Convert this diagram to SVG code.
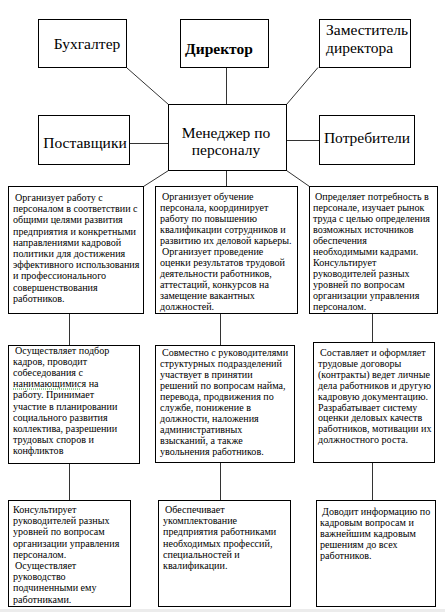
<svg xmlns="http://www.w3.org/2000/svg" width="445" height="612" viewBox="0 0 445 612">
<style>
.box{fill:#fff;stroke:#000;stroke-width:1}
.ln{stroke:#333;stroke-width:1;fill:none}
.t{font-size:15.5px}
.b{font-weight:bold}
.s{font-size:10.1px}
</style>
<rect x="0" y="0" width="445" height="612" fill="#fff"/>
<rect x="0" y="609" width="445" height="3" fill="#ececec"/>
<g id="connectors">
<line class="ln" x1="127" y1="68" x2="168.5" y2="104.5"/>
<line class="ln" x1="226.5" y1="67.5" x2="226.5" y2="104.5"/>
<line class="ln" x1="318" y1="67.5" x2="286.5" y2="104.5"/>
<line class="ln" x1="130" y1="143.5" x2="168.5" y2="143.5"/>
<line class="ln" x1="286.5" y1="140.5" x2="319.5" y2="140.5"/>
<line class="ln" x1="168.5" y1="170.5" x2="143.5" y2="186.5"/>
<line class="ln" x1="226.5" y1="170.5" x2="226.5" y2="186.5"/>
<line class="ln" x1="286.5" y1="170.5" x2="309.5" y2="186.5"/>
<line class="ln" x1="69.5" y1="313.5" x2="69.5" y2="345.5"/>
<line class="ln" x1="220.5" y1="313.5" x2="220.5" y2="345.5"/>
<line class="ln" x1="372.5" y1="313.5" x2="372.5" y2="342.5"/>
<line class="ln" x1="69.5" y1="463.5" x2="69.5" y2="500.5"/>
<line class="ln" x1="220.5" y1="462.5" x2="220.5" y2="500.5"/>
<line class="ln" x1="372.5" y1="462.5" x2="372.5" y2="500.5"/>
</g>
<g font-family="Liberation Serif, Times New Roman, serif" fill="#000">
<g id="buh"><rect class="box" x="38.5" y="19.5" width="88" height="48"/><text class="t" x="87" y="49" text-anchor="middle">Бухгалтер</text></g>
<g id="dir"><rect class="box" x="180.5" y="19.5" width="88" height="48"/><text class="t b" x="219" y="54" text-anchor="middle">Директор</text></g>
<g id="zam"><rect class="box" x="319.5" y="19.5" width="91" height="48"/><text class="t" x="326" y="35">Заместитель</text><text class="t" x="326" y="53">директора</text></g>
<g id="post"><rect class="box" x="38.5" y="115.5" width="91" height="49"/><text class="t" x="85" y="148" text-anchor="middle">Поставщики</text></g>
<g id="man"><rect class="box" x="168.5" y="104.5" width="118" height="66"/><text class="t" x="226" y="138" text-anchor="middle">Менеджер по</text><text class="t" x="226" y="155" text-anchor="middle">персоналу</text></g>
<g id="potr"><rect class="box" x="319.5" y="115.5" width="95" height="49"/><text class="t" x="367" y="143" text-anchor="middle">Потребители</text></g>

<g id="r1b1"><rect class="box" x="8.5" y="186.5" width="135" height="127"/>
<text class="s" y="201"><tspan x="15">Организует работу с</tspan><tspan x="13" dy="11.2">персоналом в соответствии с</tspan><tspan x="13" dy="11.2">общими целями развития</tspan><tspan x="13" dy="11.2">предприятия и конкретными</tspan><tspan x="13" dy="11.2">направлениями кадровой</tspan><tspan x="13" dy="11.2">политики для достижения</tspan><tspan x="13" dy="11.2">эффективного использования</tspan><tspan x="13" dy="11.2">и профессионального</tspan><tspan x="13" dy="11.2">совершенствования</tspan><tspan x="13" dy="11.2">работников.</tspan></text></g>

<g id="r1b2"><rect class="box" x="155.5" y="186.5" width="142" height="127"/>
<text class="s" y="200"><tspan x="162">Организует обучение</tspan><tspan x="160" dy="11">персонала, координирует</tspan><tspan x="160" dy="11">работу по повышению</tspan><tspan x="160" dy="11">квалификации сотрудников и</tspan><tspan x="160" dy="11">развитию их деловой карьеры.</tspan><tspan x="162" dy="11">Организует проведение</tspan><tspan x="160" dy="11">оценки результатов трудовой</tspan><tspan x="160" dy="11">деятельности работников,</tspan><tspan x="160" dy="11">аттестаций, конкурсов на</tspan><tspan x="160" dy="11">замещение  вакантных</tspan><tspan x="160" dy="11">должностей.</tspan></text></g>

<g id="r1b3"><rect class="box" x="309.5" y="186.5" width="128" height="127"/>
<text class="s" y="200"><tspan x="315">Определяет потребность  в</tspan><tspan x="313" dy="11">персонале, изучает рынок</tspan><tspan x="313" dy="11">труда с целью определения</tspan><tspan x="313" dy="11">возможных источников</tspan><tspan x="313" dy="11">обеспечения</tspan><tspan x="313" dy="11">необходимыми кадрами.</tspan><tspan x="313" dy="11">Консультирует</tspan><tspan x="313" dy="11">руководителей разных</tspan><tspan x="313" dy="11">уровней по вопросам</tspan><tspan x="313" dy="11">организации управления</tspan><tspan x="313" dy="11">персоналом.</tspan></text></g>

<g id="r2b1"><rect class="box" x="8.5" y="345.5" width="131" height="118"/>
<text class="s" y="354"><tspan x="15">Осуществляет подбор</tspan><tspan x="13" dy="11.1">кадров, проводит</tspan><tspan x="13" dy="11.1">собеседования с</tspan><tspan x="13" dy="11.1">нанимающимися на</tspan><tspan x="13" dy="11.1">работу. Принимает</tspan><tspan x="13" dy="11.1">участие в планировании</tspan><tspan x="13" dy="11.1">социального развития</tspan><tspan x="13" dy="11.1">коллектива, разрешении</tspan><tspan x="13" dy="11.1">трудовых споров и</tspan><tspan x="13" dy="11.1">конфликтов</tspan></text>
<line x1="13" y1="389" x2="80" y2="389" stroke="#3a3" stroke-width="1" stroke-dasharray="1,1"/></g>

<g id="r2b2"><rect class="box" x="155.5" y="345.5" width="139" height="117"/>
<text class="s" y="356"><tspan x="162">Совместно с руководителями</tspan><tspan x="160" dy="11">структурных подразделений</tspan><tspan x="160" dy="11">участвует в принятии</tspan><tspan x="160" dy="11">решений по  вопросам найма,</tspan><tspan x="160" dy="11">перевода, продвижения по</tspan><tspan x="160" dy="11">службе, понижение  в</tspan><tspan x="160" dy="11">должности, наложения</tspan><tspan x="160" dy="11">административных</tspan><tspan x="160" dy="11">взысканий, а также</tspan><tspan x="160" dy="11">увольнения работников.</tspan></text></g>

<g id="r2b3"><rect class="box" x="313.5" y="342.5" width="121" height="120"/>
<text class="s" y="356"><tspan x="320">Составляет и оформляет</tspan><tspan x="318" dy="10.9">трудовые договоры</tspan><tspan x="318" dy="10.9">(контракты) ведет личные</tspan><tspan x="318" dy="10.9">дела работников и другую</tspan><tspan x="318" dy="10.9">кадровую документацию.</tspan><tspan x="318" dy="10.9">Разрабатывает систему</tspan><tspan x="318" dy="10.9">оценки деловых качеств</tspan><tspan x="318" dy="10.9">работников, мотивации их</tspan><tspan x="318" dy="10.9">должностного роста.</tspan></text></g>

<g id="r3b1"><rect class="box" x="8.5" y="500.5" width="122" height="106"/>
<text class="s" y="513"><tspan x="13">Консультирует</tspan><tspan x="13" dy="11.2">руководителей разных</tspan><tspan x="13" dy="11.2">уровней по вопросам</tspan><tspan x="13" dy="11.2">организации управления</tspan><tspan x="13" dy="11.2">персоналом.</tspan><tspan x="15" dy="11.2">Осуществляет</tspan><tspan x="13" dy="11.2">руководство</tspan><tspan x="13" dy="11.2">подчиненными ему</tspan><tspan x="13" dy="11.2">работниками.</tspan></text></g>

<g id="r3b2"><rect class="box" x="158.5" y="500.5" width="132" height="106"/>
<text class="s" y="513"><tspan x="165">Обеспечивает</tspan><tspan x="163" dy="11.2">укомплектование</tspan><tspan x="163" dy="11.2">предприятия работниками</tspan><tspan x="163" dy="11.2">необходимых профессий,</tspan><tspan x="163" dy="11.2">специальностей и</tspan><tspan x="163" dy="11.2">квалификации.</tspan></text></g>

<g id="r3b3"><rect class="box" x="316.5" y="500.5" width="119" height="106"/>
<text class="s" y="515"><tspan x="322">Доводит информацию по</tspan><tspan x="320" dy="11">кадровым вопросам и</tspan><tspan x="320" dy="11">важнейшим кадровым</tspan><tspan x="320" dy="11">решениям до всех</tspan><tspan x="320" dy="11">работников.</tspan></text></g>
</g>
</svg>
